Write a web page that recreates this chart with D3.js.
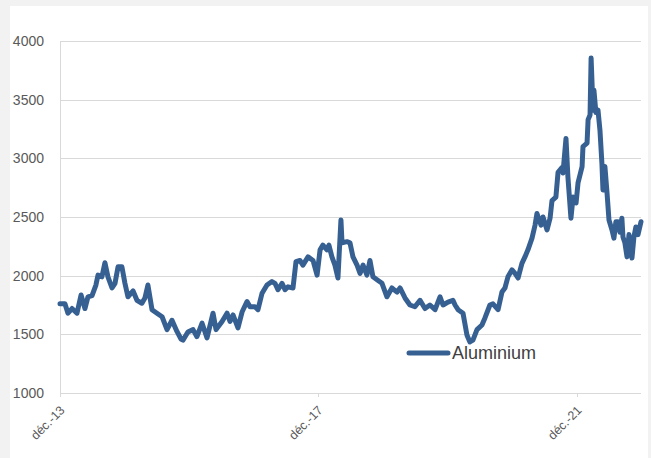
<!DOCTYPE html>
<html>
<head>
<meta charset="utf-8">
<script src="https://cdn.jsdelivr.net/npm/d3@7"></script>
<style>
  body { margin: 0; background: #f2f2f2; }
  svg { display: block; }
</style>
</head>
<body>
<div class="chart"></div>
<script>
// weekly-ish aluminium prices
var dates = [
  "2013-12-01","2013-12-29","2014-01-15","2014-02-07","2014-03-07","2014-03-30","2014-04-21","2014-05-08",
  "2014-05-31","2014-06-22","2014-07-04","2014-07-26","2014-08-12","2014-08-29","2014-09-21","2014-10-08",
  "2014-10-25","2014-11-16","2014-12-03","2014-12-20","2015-01-18","2015-02-09","2015-03-09","2015-03-26",
  "2015-04-12","2015-05-05","2015-06-02","2015-07-01","2015-07-29","2015-08-26","2015-09-23","2015-10-16",
  "2015-10-27","2015-11-24","2015-12-23","2016-01-14","2016-02-12","2016-03-11","2016-04-14","2016-05-01",
  "2016-06-04","2016-07-02","2016-07-19","2016-08-05","2016-09-02","2016-09-25","2016-10-23","2016-11-09",
  "2016-12-07","2016-12-24","2017-01-16","2017-02-13","2017-03-13","2017-03-30","2017-04-16","2017-05-09",
  "2017-05-26","2017-06-12","2017-07-10","2017-07-27","2017-08-18","2017-09-04","2017-10-03","2017-10-31",
  "2017-11-23","2017-12-10","2017-12-26","2018-01-18","2018-01-29","2018-02-15","2018-03-04","2018-03-21",
  "2018-04-07","2018-04-13","2018-05-11","2018-05-28","2018-06-14","2018-07-07","2018-07-24","2018-08-10",
  "2018-09-01","2018-09-18","2018-10-05","2018-10-28","2018-11-25","2018-12-23","2019-01-20","2019-02-18",
  "2019-03-07","2019-04-04","2019-05-02","2019-05-30","2019-06-28","2019-07-26","2019-08-23","2019-09-21",
  "2019-10-19","2019-11-05","2019-12-03","2019-12-31","2020-01-12","2020-01-29","2020-02-26","2020-03-19",
  "2020-04-05","2020-04-22","2020-05-15","2020-06-12","2020-06-29","2020-07-27","2020-08-13","2020-09-11",
  "2020-10-03","2020-10-20","2020-11-06","2020-11-29","2020-12-16","2021-01-02","2021-01-24","2021-02-10",
  "2021-02-27","2021-03-22","2021-04-08","2021-04-19","2021-05-12","2021-05-23","2021-06-15","2021-07-02",
  "2021-07-13","2021-08-04","2021-08-16","2021-09-07","2021-09-13","2021-09-30","2021-10-11","2021-10-28",
  "2021-11-09","2021-11-26","2021-12-07","2021-12-30","2022-01-04","2022-01-27","2022-02-02","2022-02-13",
  "2022-02-19","2022-03-02","2022-03-07","2022-03-18","2022-03-30","2022-04-10","2022-04-21","2022-04-27",
  "2022-05-08","2022-05-20","2022-05-31","2022-06-17","2022-06-28","2022-07-09","2022-07-21","2022-08-01",
  "2022-08-12","2022-08-18","2022-08-29","2022-09-10","2022-09-21","2022-10-08","2022-10-19","2022-10-30",
  "2022-11-11","2022-11-28"
];

var aluminium = [
  1760,1760,1680,1720,1680,1835,1720,1820,
  1830,1920,2005,1990,2110,1990,1895,1935,
  2075,2075,1935,1820,1870,1790,1765,1810,
  1920,1710,1680,1650,1540,1620,1525,1460,
  1450,1520,1540,1480,1595,1470,1680,1540,
  1610,1680,1610,1665,1555,1690,1780,1735,
  1735,1710,1850,1920,1950,1935,1880,1935,
  1880,1905,1895,2120,2130,2090,2160,2130,
  2005,2220,2260,2220,2260,2160,2090,1980,
  2475,2280,2290,2280,2160,2090,2020,2090,
  2005,2130,1990,1965,1935,1820,1895,1860,
  1895,1810,1750,1735,1790,1720,1750,1710,
  1820,1750,1775,1790,1750,1710,1680,1495,
  1435,1450,1540,1580,1640,1750,1760,1710,
  1860,1895,1990,2050,2020,1980,2105,2160,
  2220,2320,2430,2530,2430,2500,2390,2490,
  2640,2670,2880,2920,2875,3170,2840,2490,
  2670,2620,2790,2930,3100,3130,3330,3370,
  3855,3410,3580,3390,3410,3240,2960,2730,
  2930,2705,2475,2390,2320,2460,2460,2370,
  2490,2330,2280,2160,2350,2150,2330,2415,
  2350,2460
];

var yTicks = [1000, 1500, 2000, 2500, 3000, 3500, 4000];
var xTickDates = ["2013-12-01", "2017-12-01", "2021-12-01"];
var xTickLabels = ["déc.-13", "déc.-17", "déc.-21"];
var seriesName = "Aluminium";

var W = 651, H = 458;
var margin = {top: 41, right: 10, bottom: 65, left: 60};
var width = W - margin.left - margin.right;
var height = H - margin.top - margin.bottom;

var parse = d3.timeParse("%Y-%m-%d");
var data = dates.map((d, i) => ({date: parse(d), value: aluminium[i]}));

var x = d3.scaleTime()
  .domain(d3.extent(data, d => d.date))
  .range([0, width]);

var y = d3.scaleLinear()
  .domain([1000, 4000])
  .range([height, 0]);

var line = d3.line()
  .x(d => x(d.date))
  .y(d => y(d.value));

var svg = d3.select(".chart").append("svg")
  .attr("width", W)
  .attr("height", H);

// white chart panel on grey page
svg.append("rect")
  .attr("x", 10).attr("y", 6)
  .attr("width", W - 13).attr("height", H - 6)
  .attr("fill", "#fff");

var g = svg.append("g")
  .attr("transform", `translate(${margin.left}, ${margin.top})`);

// gridlines
g.append("g")
  .selectAll("line")
  .data(yTicks)
  .enter().append("line")
    .attr("x1", 0)
    .attr("x2", width)
    .attr("y1", d => Math.round(y(d)) + 0.5)
    .attr("y2", d => Math.round(y(d)) + 0.5)
    .attr("stroke", "#d9d9d9")
    .attr("stroke-width", 1);

// y labels
g.append("g")
  .selectAll("text")
  .data(yTicks)
  .enter().append("text")
    .attr("x", -16)
    .attr("y", d => y(d))
    .attr("dy", "0.35em")
    .attr("text-anchor", "end")
    .attr("font-family", "Liberation Sans, Arial, sans-serif")
    .attr("font-size", 14)
    .attr("fill", "#595959")
    .text(d => d);

// vertical axis line
g.append("line")
  .attr("x1", 0.5).attr("x2", 0.5)
  .attr("y1", 0).attr("y2", height + 4)
  .attr("stroke", "#d9d9d9");

// x ticks + rotated labels
var xt = g.append("g")
  .selectAll("g")
  .data(xTickDates)
  .enter().append("g")
    .attr("transform", d => `translate(${Math.round(x(parse(d))) + 0.5}, ${height})`);

xt.append("line")
  .attr("y1", 0).attr("y2", 4)
  .attr("stroke", "#d9d9d9");

xt.append("text")
  .attr("text-anchor", "end")
  .attr("transform", "translate(5, 18) rotate(-45)")
  .attr("font-family", "Liberation Sans, Arial, sans-serif")
  .attr("font-size", 12.5)
  .attr("fill", "#595959")
  .text((d, i) => xTickLabels[i]);

// series
g.append("path")
  .datum(data)
  .attr("d", line)
  .attr("fill", "none")
  .attr("stroke", "#376092")
  .attr("stroke-width", 5)
  .attr("stroke-linejoin", "round")
  .attr("stroke-linecap", "round");

// legend
var legend = svg.append("g")
  .attr("transform", "translate(409, 353)");

legend.append("line")
  .attr("x1", 0).attr("x2", 39)
  .attr("stroke", "#376092")
  .attr("stroke-width", 5)
  .attr("stroke-linecap", "round");

legend.append("text")
  .attr("x", 43)
  .attr("y", 6)
  .attr("font-family", "Liberation Sans, Arial, sans-serif")
  .attr("font-size", 18)
  .attr("fill", "#404040")
  .text(seriesName);
</script>
</body>
</html>
